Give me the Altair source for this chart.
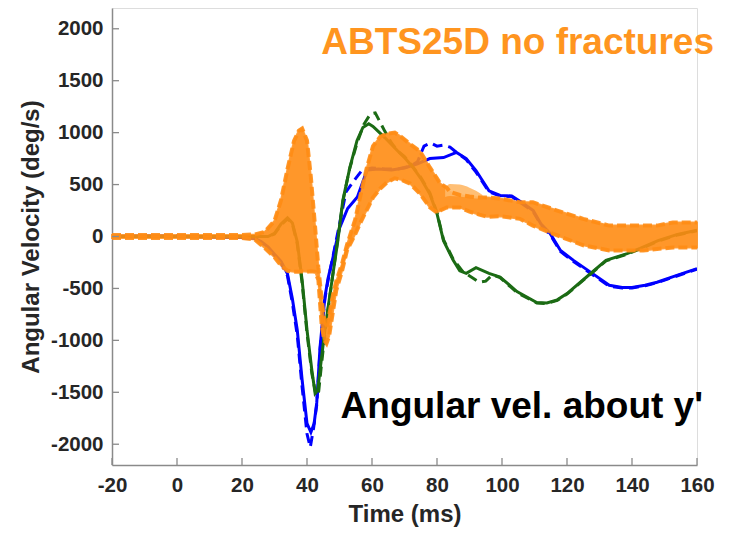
import altair as alt
import pandas as pd

# ---------------- data ----------------
blue_t = [-20, -10, 0, 10, 20, 24, 26, 28, 30, 32, 34, 35.5, 37, 38.5, 40, 41.2, 42.2, 43, 44, 45.5, 46.5, 48, 50,
          52.5, 55.5, 58.5, 62, 66, 70, 74, 77.8, 82, 86, 89, 92, 96, 99.4, 103, 106, 109.6, 112, 114.8, 118, 122,
          128, 133, 137, 140, 144, 147.7, 153.8, 160]
blue_v = [0, 5, 0, -5, -10, -20, -50, -100, -170, -240, -360, -600, -900, -1380, -1800, -1885, -1800, -1600, -1070,
          -585, -400, -200, 80, 270, 380, 640, 650, 640, 660, 700, 750, 760, 810, 750, 635, 440, 395, 390, 330, 250,
          120, 30, -135, -230, -360, -470, -490, -490, -470, -440, -375, -310]

blue_d_t = [-20, -10, 0, 10, 20, 24, 26, 28, 30, 32, 34, 35.5, 37, 38.5, 40, 41, 42, 43, 44, 45.5, 46.5, 48, 50,
            52, 55, 57, 60, 64, 68, 72, 74, 76, 78, 80, 82, 84, 86, 89, 92, 96, 99.4, 103, 106, 109.6, 112, 114.8,
            118, 122, 128, 133, 137, 140, 144, 147.7, 153.8, 160]
blue_d_v = [0, 0, 5, 0, -10, -25, -55, -110, -180, -250, -380, -640, -950, -1450, -1900, -2030, -1850, -1620, -1100,
            -600, -420, -190, 120, 430, 560, 640, 660, 650, 650, 680, 720, 870, 900, 870, 880, 860, 810, 740, 620, 430,
            390, 385, 320, 240, 110, 20, -145, -240, -370, -480, -495, -495, -475, -445, -380, -315]

green_t = [-20, 0, 20, 28, 30, 32, 34, 35.5, 37, 38.5, 40, 41.5, 42.5, 43.3, 44, 45.5, 47.7, 49.5, 51, 53.2, 55.4,
           57.2, 59, 60.3, 62, 64, 67.7, 70, 72.6, 75, 77.8, 80, 82, 85, 87, 89, 92, 96, 99.4, 104.6, 110.7, 113.8,
           117, 120, 126, 132, 138.5, 142.5, 148, 154, 160]
green_v = [0, 0, 0, 0, 30, 120, 180, 130, -50, -420, -900, -1290, -1510, -1480, -1290, -900, -420, -40, 345, 665,
           925, 1050, 1085, 1060, 1010, 950, 830, 760, 665, 560, 410, 220, -40, -230, -330, -355, -300, -355, -390,
           -530, -635, -640, -610, -550, -390, -230, -165, -115, -40, 20, 60]

green_d_t = [-20, 0, 20, 28, 30, 32, 34, 35.5, 37, 38.5, 40, 41.5, 42.8, 43.6, 44.3, 45.7, 47.8, 49.5, 51, 53, 55.4,
             57.5, 59.5, 61, 62.5, 64, 66, 68, 70, 72.6, 75, 77.8, 80, 82, 85, 88, 91, 93, 95, 97, 99.4, 104.6, 110.7,
             113.8, 117, 120, 126, 132, 138.5, 142.5, 148, 154, 160]
green_d_v = [0, 0, 0, 0, 25, 110, 170, 120, -70, -450, -930, -1320, -1535, -1490, -1280, -880, -400, -20, 330, 640,
             900, 1080, 1180, 1190, 1100, 1010, 900, 820, 770, 670, 570, 420, 230, -30, -220, -340, -400, -440, -430,
             -370, -395, -540, -640, -645, -615, -555, -395, -235, -170, -120, -45, 15, 55]

band_t = [-20, -10, 0, 10, 20, 24, 27, 30, 32, 34, 36, 37.5, 38.5, 40, 41.2, 42.5, 43.5, 44.5, 45.3, 46, 46.8, 48,
          49, 50.8, 52.3, 54.8, 56.3, 58.3, 60.3, 62.5, 64.6, 67, 69, 71.7, 74.8, 77.8, 80, 81, 83, 84, 87, 90, 93,
          95.4, 99.4, 105.5, 109.5, 117, 125, 133, 140, 143.4, 147.7, 152.6, 160]
band_hi = [15, 15, 15, 15, 15, 20, 45, 150, 350, 650, 920, 1020, 1040, 925, 570, 90, -300, -600, -800, -880, -760,
           -560, -430, -260, -80, 160, 375, 650, 870, 960, 990, 1000, 960, 890, 820, 665, 560, 510, 470, 430, 400,
           385, 375, 375, 365, 330, 330, 250, 170, 105, 105, 105, 105, 135, 135]
band_lo = [-15, -15, -15, -15, -15, -30, -110, -200, -280, -330, -340, -340, -335, -340, -335, -340, -420, -850,
           -1000, -1030, -960, -720, -520, -330, -135, 20, 125, 250, 375, 460, 520, 560, 545, 510, 410, 280, 230, 250,
           280, 280, 280, 240, 210, 190, 195, 170, 105, 10, -85, -135, -135, -135, -120, -105, -105]

pale_t = [82.5, 84, 87, 90, 92, 94]
pale_hi = [470, 505, 500, 470, 440, 400]
pale_lo = [380, 390, 385, 370, 365, 360]

y_ticks = [-2000, -1500, -1000, -500, 0, 500, 1000, 1500, 2000]
x_ticks = [-20, 0, 20, 40, 60, 80, 100, 120, 140, 160]

ORANGE = "#FF8C14"
BLUE = "#0000FF"
GREEN = "#1B6B14"
FONT = "Liberation Sans"

xs = alt.Scale(domain=[-20, 160], nice=False, zero=False)
ys = alt.Scale(domain=[-2200, 2200], nice=False, zero=False)

x_axis = alt.Axis(values=x_ticks, ticks=False, grid=False, labelExpr="toString(datum.value)", labelFont=FONT,
                  labelFontSize=20.5, labelFontWeight="bold", labelColor="#262626", labelPadding=10,
                  labelFlush=False, domainColor="#8a8a8a", domainWidth=1.5, title="Time (ms)", titleFont=FONT,
                  titleFontSize=24, titleFontWeight="bold", titleColor="#262626", titlePadding=7)
y_axis = alt.Axis(values=y_ticks, ticks=False, grid=False, labelExpr="toString(datum.value)", labelFont=FONT,
                  labelFontSize=20.5, labelFontWeight="bold", labelColor="#262626", labelPadding=9,
                  labelFlush=False, domainColor="#8a8a8a", domainWidth=1.5, title="Angular Velocity (deg/s)",
                  titleFont=FONT, titleFontSize=24, titleFontWeight="bold", titleColor="#262626", titlePadding=7)


def line_layer(t, v, color, dash=None, width=3.0, opacity=1.0):
    df = pd.DataFrame({"t": t, "v": v})
    kw = dict(color=color, strokeWidth=width, opacity=opacity, clip=True)
    if dash:
        kw["strokeDash"] = dash
    return alt.Chart(df).mark_line(**kw).encode(
        x=alt.X("t:Q", scale=xs, axis=x_axis), y=alt.Y("v:Q", scale=ys, axis=y_axis), order="t:Q")


blue_solid = line_layer(blue_t, blue_v, BLUE)
blue_dash = line_layer(blue_d_t, blue_d_v, BLUE, dash=[10, 6])
green_solid = line_layer(green_t, green_v, GREEN)
green_dash = line_layer(green_d_t, green_d_v, GREEN, dash=[10, 6])

band_df = pd.DataFrame({"t": band_t, "hi": band_hi, "lo": band_lo})
band = alt.Chart(band_df).mark_area(color=ORANGE, opacity=0.9, stroke=ORANGE, strokeWidth=2,
                                    strokeOpacity=0.9, orient="vertical").encode(
    x=alt.X("t:Q", scale=xs), y=alt.Y("hi:Q", scale=ys), y2="lo:Q")
pale_df = pd.DataFrame({"t": pale_t, "hi": pale_hi, "lo": pale_lo})
pale = alt.Chart(pale_df).mark_area(color="#FFB866", opacity=0.9, interpolate="monotone",
                                    orient="vertical").encode(
    x=alt.X("t:Q", scale=xs), y=alt.Y("hi:Q", scale=ys), y2="lo:Q")
band_hi_line = alt.Chart(band_df).mark_line(color=ORANGE, strokeWidth=4, strokeDash=[9, 4], opacity=0.9).encode(
    x=alt.X("t:Q", scale=xs), y=alt.Y("hi:Q", scale=ys), order="t:Q")
band_lo_line = alt.Chart(band_df).mark_line(color=ORANGE, strokeWidth=4, strokeDash=[9, 4], opacity=0.9).encode(
    x=alt.X("t:Q", scale=xs), y=alt.Y("lo:Q", scale=ys), order="t:Q")

ytick_df = pd.DataFrame({"v": y_ticks})
ytick = alt.Chart(ytick_df).mark_rule(color="#8a8a8a", strokeWidth=1.3).encode(
    y=alt.Y("v:Q", scale=ys), x=alt.value(0), x2=alt.value(7))
xtick_df = pd.DataFrame({"t": x_ticks})
xtick = alt.Chart(xtick_df).mark_rule(color="#8a8a8a", strokeWidth=1.3).encode(
    x=alt.X("t:Q", scale=xs), y=alt.value(457), y2=alt.value(450))

title_txt = alt.Chart(pd.DataFrame({"s": ["ABTS25D no fractures"]})).mark_text(
    font=FONT, fontSize=37, fontWeight="bold", color="#FF951F", align="right", baseline="alphabetic").encode(
    text="s:N", x=alt.value(602), y=alt.value(46))
label_txt = alt.Chart(pd.DataFrame({"s": ["Angular vel. about y'"]})).mark_text(
    font=FONT, fontSize=37, fontWeight="bold", color="#000000", align="right", baseline="alphabetic").encode(
    text="s:N", x=alt.value(591), y=alt.value(410))

chart = alt.layer(
    blue_dash, blue_solid, green_dash, green_solid, band, pale, band_hi_line, band_lo_line,
    ytick, xtick, title_txt, label_txt
).properties(
    width=585, height=457,
    autosize=alt.AutoSizeParams(type="none"),
    padding={"left": 104, "top": 0, "right": 25, "bottom": 68},
).configure_view(stroke=None).configure(background="white")

chart.save("out.html", embed_options={"renderer": "svg", "actions": False})
